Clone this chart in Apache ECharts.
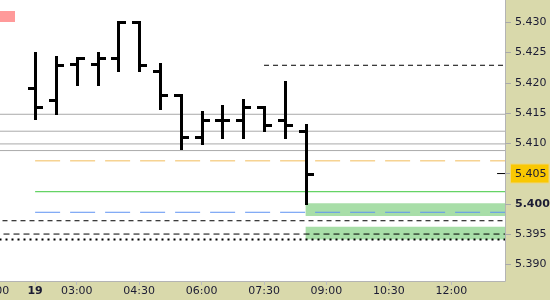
<!DOCTYPE html>
<html><head><meta charset="utf-8">
<script src="https://cdn.jsdelivr.net/npm/echarts@6/dist/echarts.min.js"></script>
<style>html,body{margin:0;padding:0;background:#d9d9ab}#c{width:550px;height:300px}</style>
</head><body><div id="c"></div><script>
// 30-minute bars on the 19th, starting 02:00 (x = bar index)
const barTimes = ['02:00','02:30','03:00','03:30','04:00','04:30','05:00','05:30','06:00','06:30','07:00','07:30','08:00','08:30'];
const opens  = [5.4191,5.4171,5.4231,5.4231,5.4241,5.4300,5.4220,5.4180,5.4110,5.4139,5.4139,5.4160,5.4139,5.4121];
const highs  = [5.4250,5.4242,5.4241,5.4250,5.4300,5.4300,5.4231,5.4180,5.4151,5.4162,5.4172,5.4160,5.4201,5.4131];
const lows   = [5.4140,5.4149,5.4197,5.4197,5.4219,5.4219,5.4157,5.4090,5.4099,5.4108,5.4108,5.4120,5.4108,5.3999];
const closes = [5.4160,5.4230,5.4241,5.4241,5.4300,5.4230,5.4180,5.4110,5.4139,5.4139,5.4160,5.4131,5.4131,5.4050];

const xTickIndex  = [-2, 0, 2, 5, 8, 11, 14, 17, 20];
const xTickLabels = ['01:00','19','03:00','04:30','06:00','07:30','09:00','10:30','12:00'];
const yTicks = [5.390,5.395,5.400,5.405,5.410,5.415,5.420,5.425,5.430];

// horizontal levels
const grayLevels = [5.4148, 5.4120, 5.4099, 5.4088];
const topDashLevel = 5.4229, topDashFrom = 11;
const orangeLevel = 5.4071, greenLevel = 5.4020, blueLevel = 5.3986, colouredFrom = 0;
const blackDash1 = 5.3972, blackDash2 = 5.3950, blackDot = 5.3941;
const zones = [[5.4001, 5.3980], [5.3962, 5.3941]], zoneFrom = 13;

const X_MIN = -2, X_MAX = 22.58, Y_MIN = 5.38724, Y_MAX = 5.43369;
const lastClose = closes[closes.length - 1];

function hline(v, from, color, type, width, z) {
  return {type:'line', data:[[from, v], [X_MAX, v]], symbol:'none', silent:true, z: z || 2,
    lineStyle:{color:color, type:type, width:width || 1}};
}

const font = 'DejaVu Sans';
const chart = echarts.init(document.getElementById('c'), null, {renderer:'canvas'});
const series = [];
series.push({type:'line', data:[], silent:true, z:1,
  markArea:{silent:true, itemStyle:{color:'#a8dea8'},
    data: zones.map(zv => [{coord:[zoneFrom, zv[0]]}, {coord:[X_MAX, zv[1]]}])}});
grayLevels.forEach(v => series.push(hline(v, X_MIN, '#aaaaaa', 'solid', 1)));
series.push(hline(topDashLevel, topDashFrom, '#000', [5,4], 1));
series.push(hline(orangeLevel, colouredFrom, '#f2bc5a', [25,10], 1));
series.push(hline(greenLevel, colouredFrom, '#3ec83e', 'solid', 1));
series.push(hline(blueLevel, colouredFrom, '#5e92f3', [25,10], 1));
series.push(hline(blackDash1, X_MIN, '#000', [5,4], 1));
series.push(hline(blackDash2, X_MIN, '#000', [6,4], 1));
series.push(hline(blackDot, X_MIN, '#000', [2,4], 2));
series.push(hline(lastClose, 22.2, '#000', 'solid', 1, 4));
series.push({
  type:'custom', z:3, silent:true,
  data: barTimes.map((t, i) => [i, opens[i], highs[i], lows[i], closes[i]]),
  encode:{x:0, y:[1,2,3,4]},
  renderItem: function(params, api) {
    const x = api.value(0);
    const o = api.coord([x, api.value(1)]);
    const h = api.coord([x, api.value(2)]);
    const l = api.coord([x, api.value(3)]);
    const c = api.coord([x, api.value(4)]);
    const cx = Math.round(h[0]);
    const yh = Math.round(h[1]), yl = Math.round(l[1]);
    return {type:'group', children:[
      {type:'rect', shape:{x:cx-1, y:yh-1, width:3, height:yl-yh+2}, style:{fill:'#000'}},
      {type:'rect', shape:{x:cx-7, y:Math.round(o[1])-1, width:7, height:3}, style:{fill:'#000'}},
      {type:'rect', shape:{x:cx, y:Math.round(c[1])-1, width:8, height:3}, style:{fill:'#000'}}
    ]};
  }
});

chart.setOption({
  animation:false,
  backgroundColor:'#d9d9ab',
  grid:{left:-6.5, right:45, top:0, bottom:19, show:true, backgroundColor:'#ffffff', borderWidth:0,
    containLabel:false, outerBoundsMode:'none'},
  xAxis:{type:'value', min:X_MIN, max:X_MAX,
    axisLine:{show:true, onZero:false, lineStyle:{color:'#b4b4b4'}},
    splitLine:{show:false},
    axisTick:{show:true, length:4, lineStyle:{color:'#bdbdbd'}, customValues:xTickIndex},
    axisLabel:{customValues:xTickIndex, margin:5, fontFamily:font, fontSize:11, color:'#1b1b33',
      formatter:function(v){
        const k = xTickIndex.findIndex(t => Math.abs(t - v) < 1e-6);
        if (k < 0) return '';
        const s = xTickLabels[k];
        return k === 1 ? '{b|' + s + '}' : s;
      },
      rich:{b:{fontWeight:'bold', fontFamily:font, fontSize:11, color:'#1b1b33'}}}
  },
  yAxis:{type:'value', position:'right', min:Y_MIN, max:Y_MAX, scale:true,
    axisLine:{show:true, onZero:false, lineStyle:{color:'#b4b4b4'}},
    splitLine:{show:false},
    axisTick:{show:true, length:6, lineStyle:{color:'#aaaaaa'}, customValues:yTicks},
    axisLabel:{customValues:yTicks, margin:6, fontFamily:font, fontSize:11, color:'#1b1b33',
      formatter:function(v){
        const s = v.toFixed(3);
        if (s === lastClose.toFixed(3)) return '{h|' + s + '}';
        if (s === '5.400') return '{b|' + s + '}';
        return '{n|' + s + '}';
      },
      rich:{
        n:{padding:[0,0,0,4], fontFamily:font, fontSize:11, color:'#1b1b33'},
        b:{padding:[0,0,0,4], fontFamily:font, fontSize:11, fontWeight:'bold', color:'#1b1b33'},
        h:{padding:[4,2,3,4], fontFamily:font, fontSize:11, color:'#1b1b33',
           backgroundColor:'#f9c802', borderColor:'#ecd67e', borderWidth:1}
      }}
  },
  graphic:[{type:'rect', left:0, top:11, shape:{width:15, height:11}, style:{fill:'#ff9a9a'}, z:10}],
  series: series
});
</script></body></html>
